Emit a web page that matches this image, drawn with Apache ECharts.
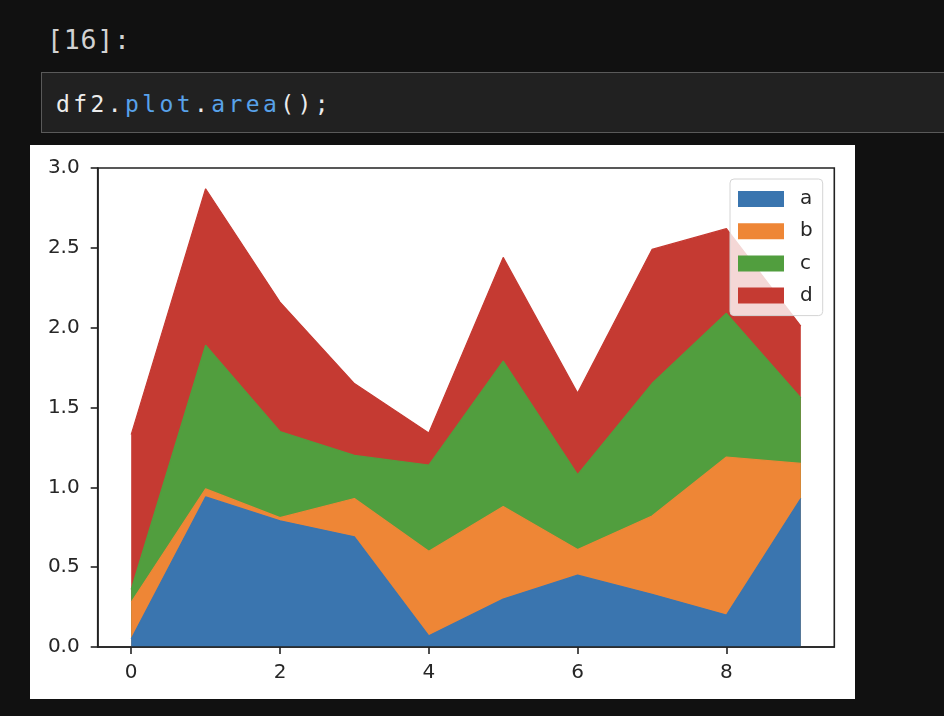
<!DOCTYPE html>
<html>
<head>
<meta charset="utf-8">
<script src="https://cdn.jsdelivr.net/npm/echarts@6/dist/echarts.min.js"></script>
<style>
  html, body { margin: 0; padding: 0; background: #111111; width: 944px; height: 716px; overflow: hidden; }
  .prompt { position: absolute; left: 47px; top: 24.6px; height: 30px; line-height: 30px;
            font-family: "DejaVu Sans Mono", monospace; font-size: 26.5px; letter-spacing: 0.8px; color: #d2d2d2; white-space: pre; }
  .cell { position: absolute; left: 41px; top: 72px; width: 960px; height: 59px;
          border: 1.6px solid #5a5a5a; background: #212121; box-sizing: content-box; }
  .code { position: absolute; left: 14px; top: 18px; height: 26px; line-height: 26px;
          font-family: "DejaVu Sans Mono", monospace; font-size: 23px; letter-spacing: 3.4px; color: #ececec; white-space: pre; }
  .kw { color: #58a2ea; }
  #chart { position: absolute; left: 30px; top: 145px; width: 825px; height: 554px; background: #ffffff; }
</style>
</head>
<body>
<div class="prompt">[16]:</div>
<div class="cell"><div class="code">df2.<span class="kw">plot</span>.<span class="kw">area</span>();</div></div>
<div id="chart"></div>
<script>
// ---- data ----
const xValues = [0, 1, 2, 3, 4, 5, 6, 7, 8, 9];
const seriesNames = ['a', 'b', 'c', 'd'];
const aValues = [0.05, 0.94, 0.79, 0.69, 0.07, 0.30, 0.45, 0.33, 0.20, 0.93];
const bValues = [0.23, 0.05, 0.02, 0.24, 0.53, 0.58, 0.16, 0.49, 0.99, 0.22];
const cValues = [0.08, 0.90, 0.54, 0.27, 0.54, 0.91, 0.47, 0.83, 0.90, 0.41];
const dValues = [0.97, 0.98, 0.81, 0.45, 0.20, 0.65, 0.51, 0.84, 0.53, 0.45];
const xTickValues = [0, 2, 4, 6, 8];

const colors = ['#3a75af', '#ee8636', '#519e3e', '#c53a32'];
const allValues = [aValues, bValues, cValues, dValues];

// stacked (cumulative) tops, like pandas' stacked area plot
const cumulative = [];
allValues.forEach((vals, i) => {
  cumulative.push(vals.map((v, k) => v + (i > 0 ? cumulative[i - 1][k] : 0)));
});

const chart = echarts.init(document.getElementById('chart'), null, { renderer: 'canvas' });
const font = '"DejaVu Sans", sans-serif';

// draw the highest stack first so lower ones cover it
const series = seriesNames.map((name, i) => ({
  name: name,
  type: 'line',
  symbol: 'none',
  smooth: false,
  data: xValues.map((x, k) => [x, cumulative[i][k]]),
  lineStyle: { color: colors[i], width: 1.2 },
  itemStyle: { color: colors[i] },
  areaStyle: { color: colors[i], opacity: 1, origin: 'start' },
  emphasis: { disabled: true },
  z: 2 + (seriesNames.length - i) * 0.1
}));

chart.setOption({
  animation: false,
  color: colors,
  grid: {
    left: 67.7, right: 20.7, top: 23, bottom: 52,
    show: true, borderColor: '#222222', borderWidth: 1.6, backgroundColor: 'transparent'
  },
  xAxis: {
    type: 'value',
    min: -0.45, max: 9.45,
    z: 5,
    axisLine: { show: true, onZero: false, lineStyle: { color: '#222222', width: 1.6 } },
    axisTick: { show: true, length: 7, customValues: xTickValues, lineStyle: { color: '#222222', width: 1.6 } },
    axisLabel: { customValues: xTickValues, margin: 16, fontSize: 20, fontFamily: font, color: '#262626',
                 formatter: v => String(v) },
    splitLine: { show: false }
  },
  yAxis: {
    type: 'value',
    min: 0, max: 3, interval: 0.5,
    z: 5,
    axisLine: { show: true, onZero: false, lineStyle: { color: '#222222', width: 1.6 } },
    axisTick: { show: true, length: 7, lineStyle: { color: '#222222', width: 1.6 } },
    axisLabel: { margin: 18, fontSize: 20, fontFamily: font, color: '#262626',
                 formatter: v => v.toFixed(1) },
    splitLine: { show: false }
  },
  legend: {
    data: seriesNames,
    orient: 'vertical',
    left: 700, top: 34,
    padding: [10, 10, 10, 8],
    itemWidth: 46, itemHeight: 16, itemGap: 12.2,
    icon: 'rect',
    backgroundColor: 'rgba(255,255,255,0.8)',
    borderColor: '#d4d4d4', borderWidth: 1, borderRadius: 4,
    itemStyle: { borderWidth: 0 },
    textStyle: { fontSize: 20, fontFamily: font, color: '#262626', lineHeight: 16, padding: [0, 0, 0, 11] },
    selectedMode: false
  },
  series: series
});
</script>
</body>
</html>
